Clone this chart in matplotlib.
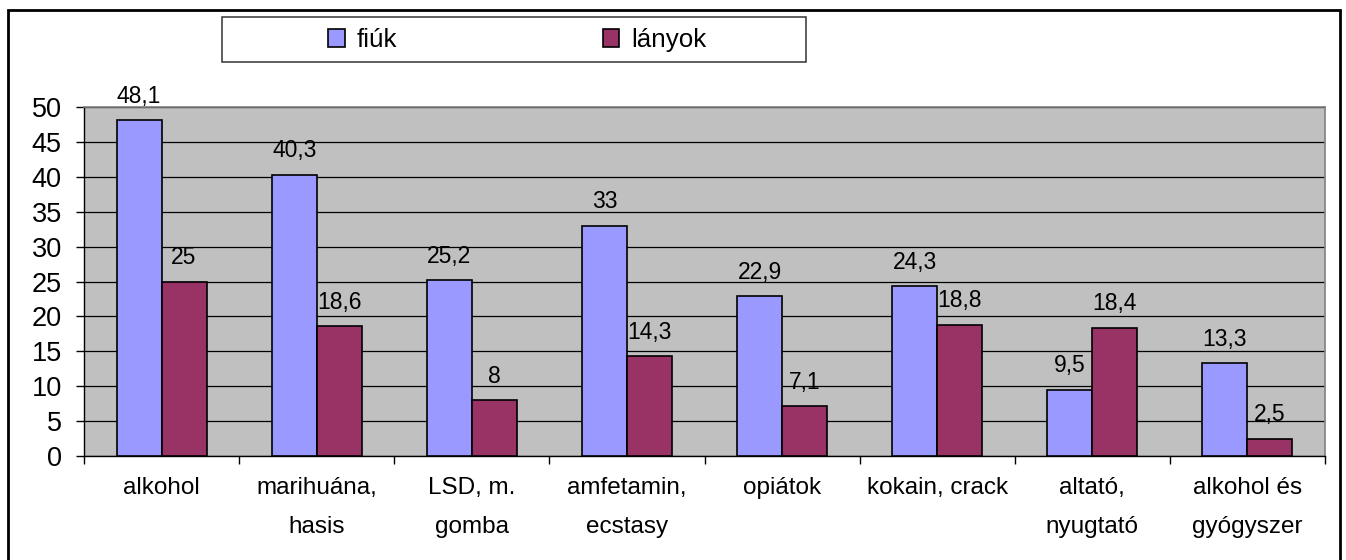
import matplotlib
matplotlib.use("Agg")
import matplotlib.pyplot as plt
from matplotlib.patches import Rectangle
import numpy as np

plt.rcParams['font.family'] = ['Liberation Sans', 'DejaVu Sans']

categories = ["alkohol", "marihuána,\nhasis", "LSD, m.\ngomba", "amfetamin,\necstasy",
              "opiátok", "kokain, crack", "altató,\nnyugtató", "alkohol és\ngyógyszer"]
fiuk = [48.1, 40.3, 25.2, 33, 22.9, 24.3, 9.5, 13.3]
lanyok = [25, 18.6, 8, 14.3, 7.1, 18.8, 18.4, 2.5]
fiuk_labels = ["48,1", "40,3", "25,2", "33", "22,9", "24,3", "9,5", "13,3"]
lanyok_labels = ["25", "18,6", "8", "14,3", "7,1", "18,8", "18,4", "2,5"]

W, H = 1346, 560
fig = plt.figure(figsize=(W/100, H/100), dpi=100)
fig.patch.set_facecolor('white')

# outer border
fig.add_artist(Rectangle((8/W, -0.01), (1340-8)/W, (H-10)/H + 0.01, transform=fig.transFigure,
                         fill=False, edgecolor='black', linewidth=2))
# legend frame
fig.add_artist(Rectangle((222/W, 1-62/H), (806-222)/W, 45/H, transform=fig.transFigure,
                         fill=False, edgecolor='#333333', linewidth=1.1))

ax = fig.add_axes([84/W, (H-456)/H, (1325-84)/W, (456-107)/H])
ax.set_facecolor('#C0C0C0')

x = np.arange(len(categories))
bw = 0.29
ax.bar(x - bw/2, fiuk, bw, color='#9999FF', edgecolor='black', linewidth=1.2, label='fiúk', zorder=3)
ax.bar(x + bw/2, lanyok, bw, color='#993366', edgecolor='black', linewidth=1.2, label='lányok', zorder=3)

for xi, v, lab in zip(x, fiuk, fiuk_labels):
    ax.annotate(lab, (xi - bw/2, v), xytext=(0, 9), textcoords='offset points',
                ha='center', va='bottom', fontsize=16.5, zorder=4)
for xi, v, lab in zip(x, lanyok, lanyok_labels):
    ax.annotate(lab, (xi + bw/2, v), xytext=(0, 9), textcoords='offset points',
                ha='center', va='bottom', fontsize=16.5, zorder=4)

ax.set_xlim(-0.5, len(categories) - 0.5)
ax.set_ylim(0, 50)
ax.set_yticks(np.arange(0, 51, 5))
ax.tick_params(axis='y', labelsize=19.5, length=6, width=1, direction='out', pad=10)
ax.yaxis.grid(True, color='black', linewidth=0.9, zorder=1)
ax.set_axisbelow(True)

ax.set_xticks(np.arange(-0.5, len(categories) + 0.5, 1))
ax.set_xticklabels([])
ax.set_xticks(x, minor=True)
ax.set_xticklabels(categories, minor=True, fontsize=17.5, linespacing=2.0)
ax.tick_params(axis='x', which='major', length=6, width=1, direction='out')
ax.tick_params(axis='x', which='minor', length=0, pad=15)

for s in ['top', 'right']:
    ax.spines[s].set_color('#808080')
    ax.spines[s].set_linewidth(1.2)
for s in ['left', 'bottom']:
    ax.spines[s].set_color('black')
    ax.spines[s].set_linewidth(1)

leg = fig.legend(loc='center left', bbox_to_anchor=(328/W, 1 - 40/H), ncol=2, fontsize=18.7,
                 frameon=False, handlelength=0.65, handleheight=0.65,
                 columnspacing=7.9, borderpad=0, borderaxespad=0, handletextpad=0.46)
for h in leg.legend_handles:
    h.set_linewidth(1.2)

fig.savefig('out.png', dpi=100)
